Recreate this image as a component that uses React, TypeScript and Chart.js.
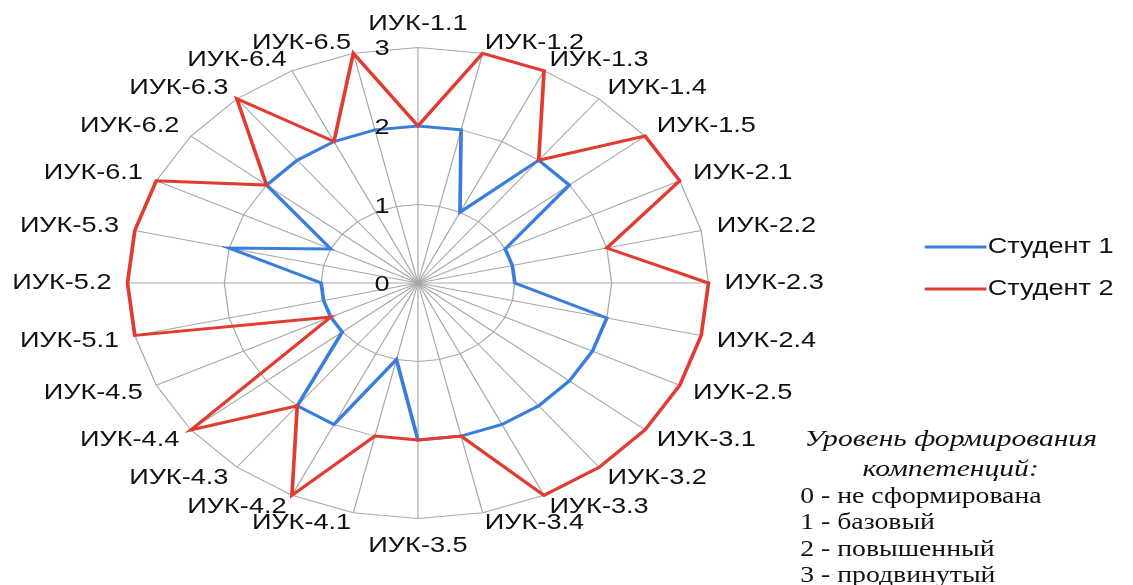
import React, { useEffect, useRef } from 'react';
import { Chart, registerables } from 'chart.js';

Chart.register(...registerables);

// ---- data ----
const categories = [
  'ИУК-1.1', 'ИУК-1.2', 'ИУК-1.3', 'ИУК-1.4', 'ИУК-1.5',
  'ИУК-2.1', 'ИУК-2.2', 'ИУК-2.3', 'ИУК-2.4', 'ИУК-2.5',
  'ИУК-3.1', 'ИУК-3.2', 'ИУК-3.3', 'ИУК-3.4', 'ИУК-3.5',
  'ИУК-4.1', 'ИУК-4.2', 'ИУК-4.3', 'ИУК-4.4', 'ИУК-4.5',
  'ИУК-5.1', 'ИУК-5.2', 'ИУК-5.3',
  'ИУК-6.1', 'ИУК-6.2', 'ИУК-6.3', 'ИУК-6.4', 'ИУК-6.5',
];
const student1 = [2, 2, 1, 2, 2, 1, 1, 1, 2, 2, 2, 2, 2, 2, 2, 1, 2, 2, 1, 1, 1, 1, 2, 1, 2, 2, 2, 2];
const student2 = [2, 3, 3, 2, 3, 3, 2, 3, 3, 3, 3, 3, 3, 2, 2, 2, 3, 2, 3, 1, 3, 3, 3, 3, 2, 3, 2, 3];
const seriesNames = ['Студент 1', 'Студент 2'];
const scaleMin = 0;
const scaleMax = 3;
const scaleStep = 1;
const levelTitle = ['Уровень формирования', 'компетенций:'];
const levelItems = ['0 - не сформирована', '1 - базовый', '2 - повышенный', '3 - продвинутый'];

// ---- styles ----
const W = 1133;
const H = 585;
const SX = 1.233; // horizontal stretch of the whole picture
const SANS = "'Liberation Sans', Arial, sans-serif";
const SERIF = "'Liberation Serif', 'Times New Roman', serif";
const BLUE = '#3b7ddd';
const RED = '#e03c31';
const GRID = '#a8a8a8';
const TEXT = '#111111';

export default function App() {
  const ref = useRef<HTMLCanvasElement | null>(null);

  useEffect(() => {
    document.body.style.margin = '0';
    const canvas = ref.current;
    if (!canvas) return;
    const n = categories.length;

    const stretch = {
      id: 'stretch',
      beforeDraw(c: any) {
        c.ctx.setTransform(SX, 0, 0, 1, 0, 0);
      },
    };

    const overlay = {
      id: 'overlay',
      afterDraw(c: any) {
        const ctx = c.ctx as CanvasRenderingContext2D;
        const s = c.scales.r;
        ctx.save();
        // axis tick labels, left of the vertical axis
        ctx.font = `22px ${SANS}`;
        ctx.fillStyle = TEXT;
        ctx.textAlign = 'right';
        ctx.textBaseline = 'middle';
        s.ticks.forEach((t: any) => {
          const p = s.getPointPositionForValue(0, t.value);
          ctx.fillText(String(t.label ?? t.value), s.xCenter - 23, p.y + 2);
        });
        // legend
        c.data.datasets.forEach((ds: any, k: number) => {
          const y = 247 + k * 42;
          ctx.strokeStyle = ds.borderColor;
          ctx.lineWidth = 3;
          ctx.beginPath();
          ctx.moveTo(750, y);
          ctx.lineTo(800, y);
          ctx.stroke();
          ctx.fillStyle = TEXT;
          ctx.textAlign = 'left';
          ctx.font = `22px ${SANS}`;
          ctx.fillText(ds.label, 801, y);
        });
        // level description
        ctx.fillStyle = TEXT;
        ctx.font = `italic 24px ${SERIF}`;
        ctx.textAlign = 'center';
        levelTitle.forEach((t, k) => ctx.fillText(t, 771, 440 + k * 30));
        ctx.font = `22.5px ${SERIF}`;
        ctx.textAlign = 'left';
        levelItems.forEach((t, k) => ctx.fillText(t, 649, 497 + k * 26.5));
        ctx.restore();
      },
    };

    const chart = new Chart(canvas, {
      type: 'radar',
      data: {
        labels: categories,
        datasets: [
          {
            label: seriesNames[0],
            data: student1,
            borderColor: BLUE,
            backgroundColor: BLUE,
            borderWidth: 3,
            pointRadius: 0,
            pointHoverRadius: 0,
            fill: false,
            tension: 0,
            order: 1,
          },
          {
            label: seriesNames[1],
            data: student2,
            borderColor: RED,
            backgroundColor: RED,
            borderWidth: 3,
            pointRadius: 0,
            pointHoverRadius: 0,
            fill: false,
            tension: 0,
            order: 0,
          },
        ],
      },
      options: {
        responsive: false,
        animation: false,
        devicePixelRatio: 1,
        events: [],
        layout: { padding: { left: 0, top: 20, right: W - 678, bottom: H - 550 } },
        plugins: {
          legend: { display: false },
          tooltip: { enabled: false },
        },
        scales: {
          r: {
            min: scaleMin,
            max: scaleMax,
            ticks: { display: false, stepSize: scaleStep },
            grid: { color: GRID, lineWidth: 1 },
            angleLines: { color: GRID, lineWidth: 1 },
            pointLabels: {
              color: TEXT,
              font: { family: SANS, size: 22, lineHeight: 0.2 },
              padding: (ctx: any) => {
                const i = ctx.index;
                if (i === 0) return 21;
                if (i === n / 2) return 25;
                const a = (2 * Math.PI * i) / n;
                return Math.round(7 + 6 * Math.abs(Math.sin(a)));
              },
            },
          },
        },
      },
      plugins: [stretch, overlay],
    } as any);

    return () => chart.destroy();
  }, []);

  return (
    <canvas
      ref={ref}
      width={W}
      height={H}
      style={{ display: 'block', width: W + 'px', height: H + 'px' }}
    />
  );
}
